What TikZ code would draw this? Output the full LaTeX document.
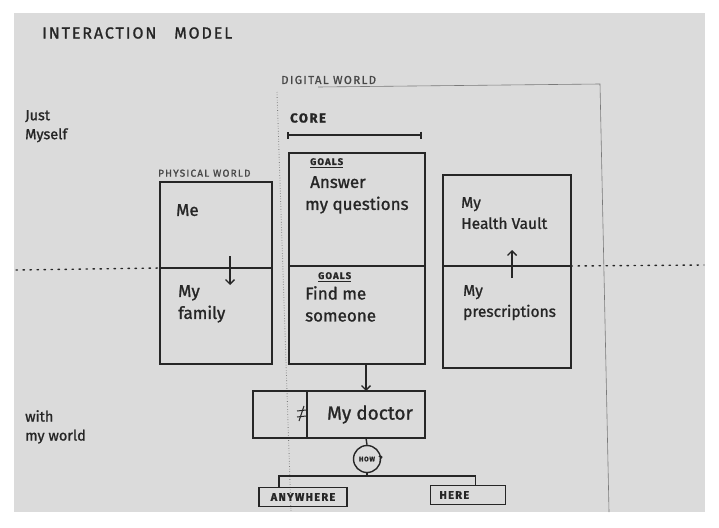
\documentclass[tikz,border=0pt]{standalone}
\usepackage{fontspec}
\setmainfont{Fira Sans}
\newfontfamily\handfont{Fira Sans}[FakeBold=1.2]
\newfontfamily\capsfont{Fira Sans}[FakeBold=1.2,LetterSpace=12]
\usetikzlibrary{arrows.meta,positioning,calc}
\definecolor{SketchInk}{HTML}{262626}
\definecolor{SketchPaper}{HTML}{DBDBDB}
\definecolor{SketchPencil}{HTML}{7A7A7A}
\tikzset{
  cellbox/.style={draw=SketchInk,line width=1.6pt,inner sep=0pt,outer sep=0pt},
  handtext/.style={inner sep=0pt,align=left,text=SketchInk,font=\handfont\fontsize{17}{22}\selectfont},
  sidetext/.style={inner sep=0pt,align=left,text=SketchInk,font=\handfont\fontsize{14.5}{19}\selectfont},
  capsmall/.style={inner sep=0pt,text=SketchInk!85,font=\capsfont\fontsize{11.5}{12}\selectfont},
  goalstag/.style={inner sep=0pt,text=SketchInk,font=\capsfont\fontsize{9.5}{10}\bfseries},
  tagline/.style={line width=1.2pt,draw=SketchInk},
  inkline/.style={line width=1.4pt,draw=SketchInk},
  inkarrow/.style={-{Straight Barb[length=4.5pt,width=9pt]},line width=1.4pt,draw=SketchInk},
  corebar/.style={{Bar[width=7pt]}-{Bar[width=7pt]},line width=1.6pt,draw=SketchInk},
  pencil/.style={line width=0.6pt,draw=SketchPencil},
  divider/.style={line width=1.4pt,draw=SketchInk,line cap=round,dash pattern=on 1.5pt off 5.5pt}
}
\begin{document}
\begin{tikzpicture}[x=1pt,y=-1pt]
\useasboundingbox (0,0) rectangle (719,527);
\fill[white] (0,0) rectangle (719,527);
\fill[SketchPaper] (14,13) rectangle (705,512);

% Headings and side labels
\node[anchor=west,inner sep=0pt,text=SketchInk,font=\capsfont\fontsize{16}{18}\selectfont] (title) at (42,33) {INTERACTION\hspace{18pt}MODEL};
\node[sidetext,anchor=north west] (myself) at (25,110) {Just\\Myself};
\node[sidetext,anchor=north west] (myworld) at (25,410) {with\\my world};

% Digital world frame
\node[capsmall,anchor=west] (digital) at (281,80) {DIGITAL WORLD};
\draw[pencil,dotted,line width=0.9pt] (277,92) -- (291,512);
\draw[pencil] (318,87) -- (600,84) -- (609,512);
\node[anchor=west,inner sep=0pt,text=SketchInk,font=\capsfont\fontsize{13}{14}\bfseries] (core) at (290,118) {CORE};
\draw[corebar] (287,135) -- (422,135);

% Physical world lane
\node[cellbox,minimum width=112pt,minimum height=86pt] (me) at (216,225) {};
\node[cellbox,minimum width=112pt,minimum height=96pt] (family) at (216,316) {};
\node[capsmall,font=\capsfont\fontsize{10}{11}\selectfont,above right=5pt and -2pt of me.north west] (physical) {PHYSICAL WORLD};
\node[handtext,below right=22pt and 16pt of me.north west] (metext) {Me};
\node[handtext,below right=17pt and 18pt of family.north west] (familytext) {My\\family};
\draw[inkarrow] ($(me.south)+(14,-12)$) -- ($(family.north)+(14,17)$);

% Core goals
\node[cellbox,minimum width=136pt,minimum height=113pt] (answer) at (357,209.5) {};
\node[cellbox,minimum width=136pt,minimum height=98pt] (findme) at (357,315) {};
\node[goalstag,below right=5pt and 21pt of answer.north west] (tagA) {GOALS};
\draw[tagline] ([yshift=-1.8pt]tagA.south west) -- ([yshift=-1.8pt]tagA.south east);
\node[handtext,below right=23pt and 16pt of answer.north west] (answertext) {\hspace*{5pt}Answer\\my questions};
\node[goalstag,below right=6pt and 29pt of findme.north west] (tagB) {GOALS};
\draw[tagline] ([yshift=-1.8pt]tagB.south west) -- ([yshift=-1.8pt]tagB.south east);
\node[handtext,below right=20pt and 16pt of findme.north west] (findtext) {Find me\\someone};

% Personal records
\node[cellbox,minimum width=128pt,minimum height=91pt] (vault) at (507,220.5) {};
\node[cellbox,minimum width=128pt,minimum height=102pt] (presc) at (507,317) {};
\node[handtext,font=\handfont\fontsize{15.5}{21}\selectfont,below right=22pt and 18pt of vault.north west] (vaulttext) {My\\Health Vault};
\node[handtext,font=\handfont\fontsize{15.5}{21}\selectfont,below right=19pt and 20pt of presc.north west] (presctext) {My\\prescriptions};
\draw[inkarrow] ($(presc.north)+(5,12)$) -- ($(vault.south)+(5,-16)$);

% Level divider
\draw[divider] (16,270) -- (me.south west);
\draw[divider] (presc.north east) -- (704,265);

% Doctor and channels
\node[cellbox,minimum width=54pt,minimum height=47pt] (docside) at (280,414.5) {};
\node[cellbox,minimum width=118pt,minimum height=47pt,handtext,font=\handfont\fontsize{19}{22}\selectfont,inner sep=0pt] (doctor) at (366,414.5) {\hspace*{8pt}My doctor};
\draw[inkline,line width=1pt] (297,411) -- (306,410);
\draw[inkline,line width=1pt] (297,417) -- (306,416);
\draw[inkline,line width=1pt] (299,421) -- (304,406);
\draw[inkarrow] (findme.south -| doctor.north) -- (doctor.north);
\node[circle,draw=SketchInk,line width=1.4pt,minimum width=27pt,minimum height=27pt,inner sep=0pt,text=SketchInk,font=\capsfont\fontsize{6.5}{7}\bfseries] (how) at (367,459) {HOW};
\node[inner sep=0pt,text=SketchInk,font=\fontsize{9}{10}\bfseries,right=-3pt of how] (howq) {?};
\draw[inkline] (doctor.south) -- (how.north);
\coordinate (split) at (367,476);
\draw[inkline] (how.south) -- (split);
\node[cellbox,minimum width=88pt,minimum height=19pt,text=SketchInk,font=\capsfont\fontsize{11}{12}\bfseries] (anywhere) at (303,497) {ANYWHERE};
\node[cellbox,minimum height=19pt,text width=63pt,inner xsep=6pt,align=left,text=SketchInk,font=\capsfont\fontsize{11}{12}\bfseries] (here) at (468,495) {\hspace*{3pt}HERE};
\draw[inkline] (split) -| ([xshift=20pt]anywhere.north west);
\draw[inkline] (split) -| ([xshift=-30pt]here.north east);
\end{tikzpicture}
\end{document}
